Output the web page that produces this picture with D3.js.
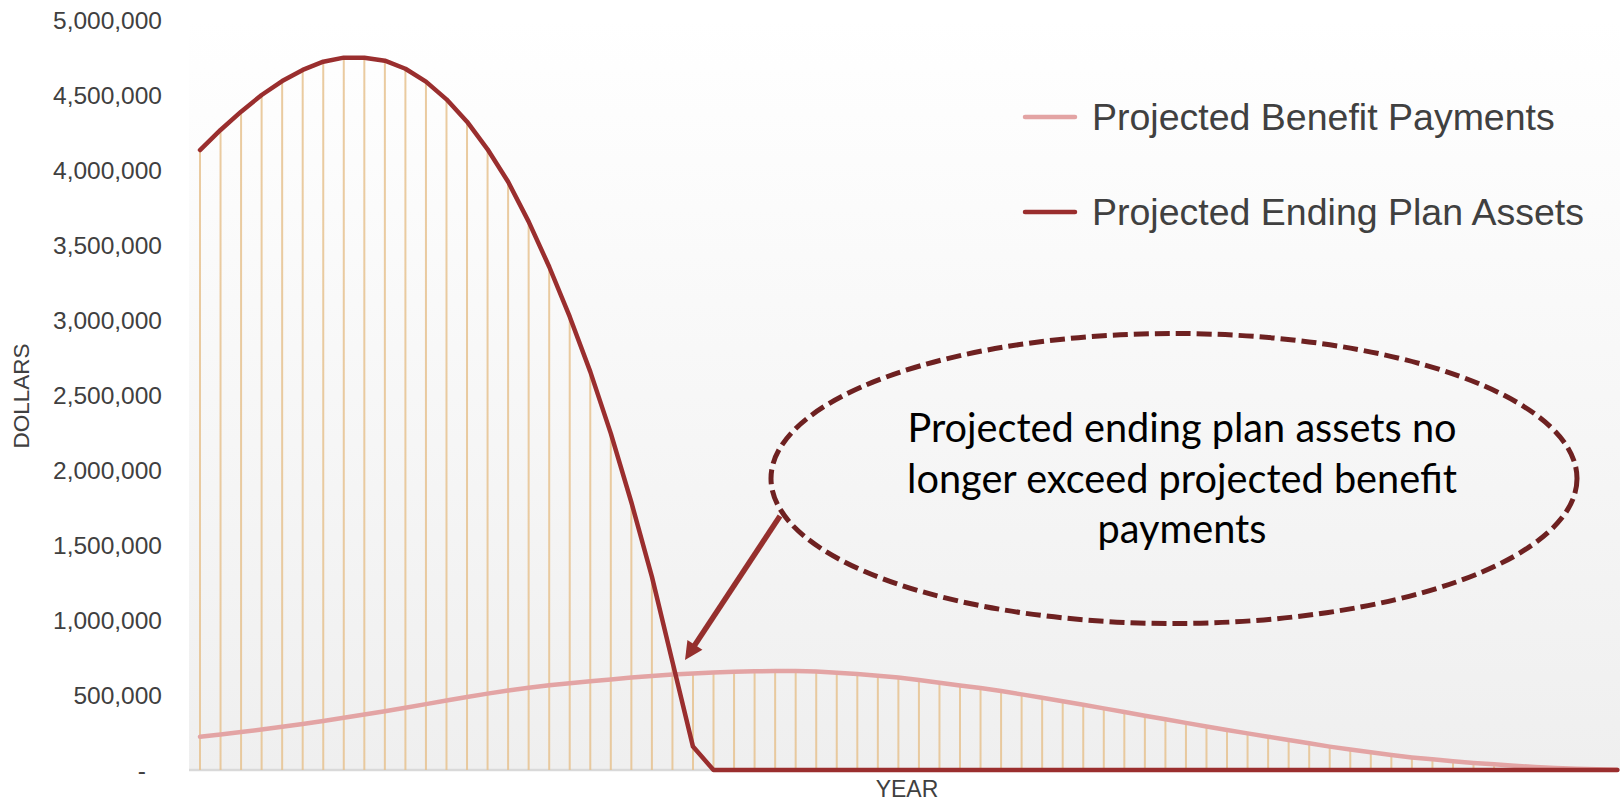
<!DOCTYPE html>
<html>
<head>
<meta charset="utf-8">
<script src="https://cdn.jsdelivr.net/npm/d3@7"></script>
<style>
  html, body { margin: 0; padding: 0; background: #ffffff; }
  svg { display: block; }
</style>
</head>
<body>
<svg id="chart" width="1620" height="801"></svg>
<script>
// Projection years (one point per year, no tick labels on the year axis)
const years = d3.range(1, 71);

// Projected ending plan assets, dollars
const endingAssets = [
  4133000, 4267000, 4389000, 4500000, 4593000, 4667000, 4722000, 4749000, 4749000, 4729000,
  4675000, 4589000, 4471000, 4322000, 4138000, 3922000, 3656000, 3355000, 3022000, 2656000,
  2244000, 1785000, 1289000, 722000, 156000, 0, 0, 0, 0, 0,
  0, 0, 0, 0, 0, 0, 0, 0, 0, 0,
  0, 0, 0, 0, 0, 0, 0, 0, 0, 0,
  0, 0, 0, 0, 0, 0, 0, 0, 0, 0,
  0, 0, 0, 0, 0, 0, 0, 0, 0, 0
];

// Projected benefit payments, dollars
const benefitPayments = [
  222000, 237000, 253000, 270000, 288000, 307000, 327000, 348000, 370000, 392000,
  415000, 439000, 463000, 487000, 509000, 530000, 549000, 565000, 579000, 592000,
  604000, 616000, 627000, 636000, 644000, 650000, 655000, 658000, 660000, 660000,
  657000, 649000, 640000, 629000, 616000, 600000, 582000, 564000, 546000, 526000,
  504000, 482000, 458000, 435000, 411000, 387000, 362000, 338000, 314000, 290000,
  267000, 244000, 222000, 200000, 178000, 156000, 136000, 118000, 100000, 84000,
  71000, 58000, 47000, 38000, 29000, 20000, 13000, 9000, 5000, 2000
];

// Value axis ticks and their labels
const yTickValues = [0, 500000, 1000000, 1500000, 2000000, 2500000, 3000000, 3500000, 4000000, 4500000, 5000000];
const yTickLabels = ["-", "500,000", "1,000,000", "1,500,000", "2,000,000", "2,500,000", "3,000,000", "3,500,000", "4,000,000", "4,500,000", "5,000,000"];

const seriesNames = ["Projected Benefit Payments", "Projected Ending Plan Assets"];
const seriesColors = ["#e3a4a4", "#9a2e2e"];

const annotationLines = [
  "Projected ending plan assets no",
  "longer exceed projected benefit",
  "payments"
];

const axisTitleY = "DOLLARS";
const axisTitleX = "YEAR";

// ---- layout ----
const plot = { left: 189, right: 1620, top: 20, bottom: 770 };

const svg = d3.select("#chart");

const x = d3.scalePoint()
  .domain(years)
  .range([200, 1617.3]);

const y = d3.scaleLinear()
  .domain([0, 5000000])
  .range([plot.bottom, plot.top]);

// plot area background: soft vertical gradient
const defs = svg.append("defs");
const grad = defs.append("linearGradient")
  .attr("id", "plotBg")
  .attr("gradientUnits", "userSpaceOnUse")
  .attr("x1", 0).attr("y1", plot.top)
  .attr("x2", 0).attr("y2", plot.bottom);
grad.append("stop").attr("offset", "0%").attr("stop-color", "#ffffff");
grad.append("stop").attr("offset", "100%").attr("stop-color", "#efefef");

svg.append("rect")
  .attr("x", plot.left)
  .attr("y", 0)
  .attr("width", plot.right - plot.left)
  .attr("height", plot.bottom)
  .attr("fill", "url(#plotBg)");

// category axis baseline
svg.append("line")
  .attr("x1", plot.left).attr("x2", plot.right)
  .attr("y1", y(0)).attr("y2", y(0))
  .attr("stroke", "#d9d9d9")
  .attr("stroke-width", 2.5);

// value axis
const yAxis = d3.axisLeft(y)
  .tickValues(yTickValues)
  .tickFormat((d, i) => yTickLabels[i])
  .tickSize(0)
  .tickPadding(0);

const yAxisG = svg.append("g")
  .attr("transform", "translate(162,0)")
  .call(yAxis);
yAxisG.select(".domain").remove();
yAxisG.selectAll("text")
  .attr("font-family", "'Liberation Sans', Arial, sans-serif")
  .attr("font-size", 24.5)
  .attr("fill", "#404040")
  .attr("dy", "0.36em")
  .attr("x", d => d === 0 ? -16 : 0);

// axis titles
svg.append("text")
  .attr("transform", "translate(29,396) rotate(-90)")
  .attr("text-anchor", "middle")
  .attr("font-family", "'Liberation Sans', Arial, sans-serif")
  .attr("font-size", 22.5)
  .attr("fill", "#404040")
  .text(axisTitleY);

svg.append("text")
  .attr("x", 907)
  .attr("y", 796.5)
  .attr("text-anchor", "middle")
  .attr("font-family", "'Liberation Sans', Arial, sans-serif")
  .attr("font-size", 23)
  .attr("fill", "#404040")
  .text(axisTitleX);

// drop lines from the higher of the two series down to the axis
const rows = years.map((yr, i) => ({
  year: yr,
  assets: endingAssets[i],
  benefits: benefitPayments[i]
}));

svg.append("g")
  .selectAll("line")
  .data(rows)
  .join("line")
  .attr("x1", d => x(d.year))
  .attr("x2", d => x(d.year))
  .attr("y1", y(0))
  .attr("y2", d => y(Math.max(d.assets, d.benefits)))
  .attr("stroke", "#e6c28f")
  .attr("stroke-opacity", 0.85)
  .attr("stroke-width", 2);

// series lines
const lineBenefits = d3.line()
  .x(d => x(d.year))
  .y(d => y(d.benefits));
const lineAssets = d3.line()
  .x(d => x(d.year))
  .y(d => y(d.assets));

svg.append("path")
  .datum(rows)
  .attr("d", lineBenefits)
  .attr("fill", "none")
  .attr("stroke", seriesColors[0])
  .attr("stroke-width", 4.5)
  .attr("stroke-linejoin", "round")
  .attr("stroke-linecap", "round");

svg.append("path")
  .datum(rows)
  .attr("d", lineAssets)
  .attr("fill", "none")
  .attr("stroke", seriesColors[1])
  .attr("stroke-width", 4.5)
  .attr("stroke-linejoin", "round")
  .attr("stroke-linecap", "round");

// legend
const legend = svg.append("g");
const legendRows = [
  { name: seriesNames[0], color: seriesColors[0], cy: 117 },
  { name: seriesNames[1], color: seriesColors[1], cy: 212 }
];
legendRows.forEach(r => {
  legend.append("line")
    .attr("x1", 1025).attr("x2", 1075)
    .attr("y1", r.cy).attr("y2", r.cy)
    .attr("stroke", r.color)
    .attr("stroke-width", 4.5)
    .attr("stroke-linecap", "round");
  legend.append("text")
    .attr("x", 1092)
    .attr("y", r.cy + 12.5)
    .attr("font-family", "'Liberation Sans', Arial, sans-serif")
    .attr("font-size", 37.5)
    .attr("fill", "#404040")
    .text(r.name);
});

// where assets drop below benefit payments
let cross = null;
for (let i = 0; i < rows.length - 1; i++) {
  const d0 = rows[i].assets - rows[i].benefits;
  const d1 = rows[i + 1].assets - rows[i + 1].benefits;
  if (d0 > 0 && d1 <= 0) {
    const t = d0 / (d0 - d1);
    cross = {
      px: x(rows[i].year) + t * (x(rows[i + 1].year) - x(rows[i].year)),
      py: y(rows[i].benefits + t * (rows[i + 1].benefits - rows[i].benefits))
    };
    break;
  }
}

// callout ellipse
const callout = { cx: 1174, cy: 478.5, rx: 403, ry: 145 };
svg.append("ellipse")
  .attr("cx", callout.cx)
  .attr("cy", callout.cy)
  .attr("rx", callout.rx)
  .attr("ry", callout.ry)
  .attr("fill", "none")
  .attr("stroke", "#6e2121")
  .attr("stroke-width", 5)
  .attr("stroke-dasharray", "15,6");

// callout text
const noteG = svg.append("g");
const noteText = noteG.selectAll("text")
  .data(annotationLines)
  .join("text")
  .attr("x", 1182)
  .attr("y", (d, i) => 442 + i * 50.5)
  .attr("text-anchor", "middle")
  .attr("font-family", "Lato, 'Open Sans', sans-serif")
  .attr("font-size", 38)
  .attr("fill", "#000000")
  .text(d => d);
// fit the widest line to the callout's text width
const widest = d3.max(noteText.nodes(), n => n.getComputedTextLength());
noteText.attr("font-size", 38 * 550 / widest);

// arrow from the callout to the crossing point
const tip = { x: cross.px + 9.5, y: cross.py - 14.5 };
const start = { x: 780, y: 516 };
const ang = Math.atan2(tip.y - start.y, tip.x - start.x);
const headLen = 18, headHalf = 9;
const ux = Math.cos(ang), uy = Math.sin(ang);
const bx = tip.x - headLen * ux, by = tip.y - headLen * uy;

svg.append("line")
  .attr("x1", start.x).attr("y1", start.y)
  .attr("x2", bx + 2 * ux).attr("y2", by + 2 * uy)
  .attr("stroke", "#952f2d")
  .attr("stroke-width", 5.5);

svg.append("path")
  .attr("d", d3.line()([
    [tip.x, tip.y],
    [bx - headHalf * uy, by + headHalf * ux],
    [bx + headHalf * uy, by - headHalf * ux]
  ]) + "Z")
  .attr("fill", "#952f2d");
</script>
</body>
</html>
